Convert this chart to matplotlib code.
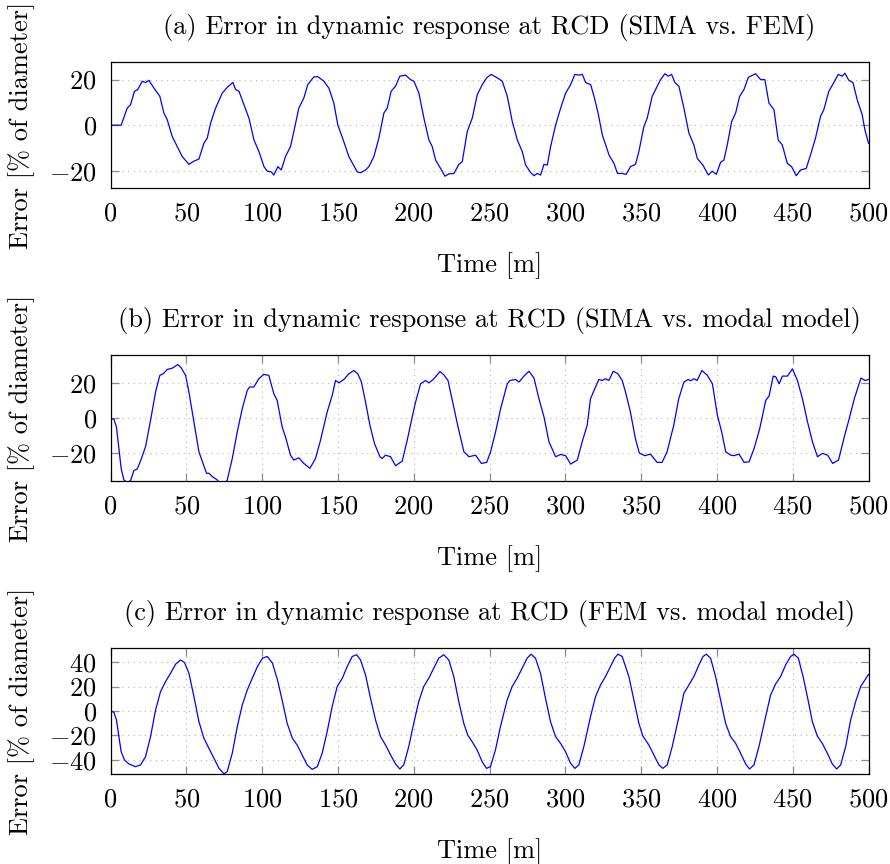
import matplotlib
matplotlib.use("Agg")
import matplotlib.pyplot as plt

plt.rcParams['font.family'] = 'serif'
plt.rcParams['font.serif'] = ['cmr10']
plt.rcParams['mathtext.fontset'] = 'cm'
plt.rcParams['axes.formatter.use_mathtext'] = True

# (a) SIMA vs. FEM
t_a = [0, 7.0, 11.0, 13.2, 15.8, 17.9, 20.9, 23.1, 25.3, 28.6, 32.5, 35.2, 37.4,
       40.7, 44.0, 47.3, 51.7, 55.0, 58.3, 61.6, 63.8, 66.0, 69.3, 73.7, 77.0,
       80.7, 82.5, 84.7, 88.0, 91.3, 94.6, 97.9, 101.2, 103.4, 106.0, 107.7,
       110.4, 112.6, 115.4, 118.7, 120.9, 124.2, 127.5, 130.1, 134.1, 136.7,
       140.7, 144.0, 147.3, 149.9, 153.5, 157.2, 162.7, 164.9, 168.2, 170.4,
       173.7, 177.0, 180.3, 182.5, 185.1, 188.0, 190.8, 194.6, 197.9, 200.1,
       203.4, 206.7, 210.0, 212.2, 214.4, 217.7, 220.6, 223.2, 226.5, 229.8,
       232.0, 235.3, 238.6, 241.9, 245.2, 248.1, 251.1, 255.1, 258.4, 261.7,
       265.0, 268.3, 271.6, 273.8, 277.1, 279.3, 281.5, 283.7, 285.9, 288.1,
       290.3, 293.6, 296.9, 300.2, 303.5, 306.2, 309.0, 311.2, 313.4, 316.7,
       318.9, 321.6, 324.4, 328.8, 332.1, 334.4, 337.5, 340.1, 343.0, 346.3,
       348.5, 351.8, 354.0, 357.3, 360.6, 362.8, 365.7, 367.9, 370.1, 372.3,
       374.9, 378.2, 381.5, 384.8, 387.0, 390.7, 394.3, 396.9, 399.6, 402.4,
       404.6, 406.8, 409.7, 412.3, 415.0, 417.8, 420.7, 425.5, 428.8, 431.6,
       434.3, 437.6, 440.4, 443.1, 446.4, 449.2, 452.3, 455.1, 458.9, 461.7,
       465.0, 468.3, 470.5, 473.8, 477.1, 480.0, 482.6, 484.4, 487.0, 489.7,
       492.5, 495.8, 497.6, 500.0]
err_a = [0, 0, 7.5, 9.0, 14.9, 15.6, 19.3, 18.7, 19.7, 16.3, 12.7, 5.3, 2.4,
         -5.0, -9.4, -13.8, -17.2, -15.8, -14.9, -7.9, -5.7, 0.9, 7.5, 14.1, 16.6,
         18.8, 15.6, 14.9, 9.0, 3.1, -6.5, -11.6, -18.2, -20.2, -20.5, -21.9,
         -18.2, -19.7, -13.8, -9.4, -2.8, 7.5, 11.9, 17.8, 21.2, 21.3,
         19.3, 16.3, 9.7, 0.1, -6.5, -13.8, -20.5, -20.9, -19.7, -18.2,
         -13.8, -5.7, 5.3, 7.5, 14.9, 17.1, 21.5, 22.0, 20.0, 19.3,
         14.1, 3.1, -6.5, -9.4, -15.3, -19.0, -22.4, -21.4, -21.2, -17.2,
         -16.0, -2.8, 3.1, 13.4, 17.8, 20.8, 22.3, 20.8, 19.3, 12.7,
         1.6, -6.5, -11.6, -17.5, -20.8, -22.2, -21.2, -21.9, -17.2, -17.5,
         -9.4, 0.1, 7.5, 14.1, 17.8, 22.3, 22.0, 22.3, 18.7, 17.8,
         12.7, 5.3, -4.3, -13.1, -16.8, -21.2, -21.2, -21.6, -18.2, -17.2,
         -11.6, -0.6, 3.1, 12.7, 17.1, 20.0, 22.6, 21.5, 22.3, 18.7,
         17.1, 7.5, -3.5, -8.7, -14.6, -17.5, -21.9, -20.2, -21.6, -16.3,
         -15.3, -8.7, 1.6, 5.3, 12.7, 15.6, 21.0, 22.6, 20.0, 20.0,
         9.7, 6.8, -6.5, -8.7, -16.8, -18.2, -22.2, -19.7, -19.0, -13.1,
         -5.7, 3.8, 6.8, 14.9, 18.7, 22.3, 21.5, 22.8, 19.7, 18.7,
         11.2, 4.6, -2.1, -8.0]

# (b) SIMA vs. modal model
t_b = [0, 2.2, 3.9, 5.5, 7.0, 8.8, 11.0, 13.2, 15.4, 17.6, 19.8, 23.1, 26.4,
       29.7, 32.5, 34.7, 37.4, 40.7, 44.4, 46.6, 49.5, 51.7, 55.0, 58.3, 63.3,
       64.9, 67.1, 70.4, 71.5, 75.9, 77.0, 80.3, 83.6, 86.9, 90.2, 91.7, 94.5,
       97.8, 101.1, 104.4, 107.7, 109.9, 113.2, 115.4, 118.7, 120.9, 124.2,
       127.5, 131.5, 135.2, 138.5, 142.9, 146.2, 148.4, 150.6, 153.9, 157.2,
       160.5, 163.1, 165.5, 168.2, 171.1, 174.1, 177.7, 179.2, 181.4, 184.7,
       188.0, 192.4, 195.7, 199.0, 201.2, 204.5, 207.8, 210.0, 212.9, 217.3,
       219.9, 222.6, 226.1, 229.2, 233.1, 236.4, 240.8, 244.6, 248.1, 250.7,
       254.0, 257.3, 261.7, 263.4, 267.2, 269.4, 272.7, 276.0, 279.3, 282.6,
       285.9, 289.2, 293.6, 296.9, 300.2, 303.5, 307.9, 311.1, 314.4, 316.6,
       319.9, 322.1, 324.3, 326.5, 328.7, 331.6, 334.7, 337.5, 339.7, 342.9,
       346.2, 348.8, 352.4, 356.1, 360.5, 363.8, 367.1, 371.5, 374.8, 378.2,
       381.0, 382.6, 384.8, 386.9, 390.1, 393.7, 397.0, 400.3, 403.1, 405.8,
       409.1, 411.3, 414.6, 417.9, 421.2, 424.5, 428.2, 432.2, 434.4, 437.1,
       438.8, 441.0, 443.2, 446.5, 449.8, 453.1, 456.4, 459.7, 463.0, 466.3,
       469.6, 473.0, 476.3, 480.2, 484.0, 487.3, 490.6, 493.4, 495.0, 497.8,
       500.0]
err_b = [0, -0.6, -4.9, -17.2, -28.5, -35.1, -36.5, -35.5, -29.7, -28.9, -24.2,
         -16.2, -1.1, 14.9, 24.4, 25.3, 27.8, 28.5, 30.6, 28.7, 24.4, 14.9, -2.1,
         -19.1, -31.3, -31.3, -33.2, -35.1, -36.5, -36.5, -35.1, -22.9, -7.7, 5.5,
         15.9, 17.8, 17.8, 22.5, 25.0, 24.4, 14.0, 10.2, -4.9, -10.6, -21.0,
         -23.8, -22.5, -25.7, -28.5, -22.9, -12.5, 3.6, 13.0, 21.5, 20.2, 22.1,
         25.3, 27.2, 25.3, 20.6, 9.2, -4.0, -14.4, -21.9, -22.9, -21.0, -21.9,
         -27.0, -24.4, -12.5, 0.8, 9.2, 19.6, 21.5, 20.2, 22.1, 26.6, 24.7,
         21.5, 7.4, -4.9, -19.1, -21.9, -21.0, -25.7, -25.1, -19.1, -7.7, 5.5,
         19.6, 21.5, 22.1, 20.6, 24.0, 26.8, 22.9, 11.1, 0.8, -13.4, -21.9,
         -20.6, -21.3, -26.1, -23.8, -13.4, -4.0, 11.1, 17.8, 22.1, 21.5, 22.5,
         21.5, 26.8, 25.3, 21.5, 14.9, 3.6, -11.5, -19.8, -21.3, -20.4, -25.1,
         -25.1, -19.1, -4.0, 11.1, 20.6, 22.1, 21.3, 22.5, 21.5, 27.2, 24.4,
         19.6, 1.7, -7.7, -19.1, -21.0, -21.3, -20.4, -25.1, -24.8, -17.2, -5.9,
         10.2, 12.7, 24.0, 23.6, 19.6, 24.0, 24.0, 28.1, 21.5, 11.1, -1.9,
         -13.4, -21.9, -20.0, -21.0, -25.7, -23.8, -10.6, 0.0, 11.1, 18.7,
         22.9, 21.5, 22.1]

# (c) FEM vs. modal model
t_c = [0, 2.2, 3.9, 5.5, 7.0, 9.2, 12.1, 16.5, 19.8, 23.1, 26.4, 29.7, 33.0,
       36.3, 39.6, 42.9, 46.2, 48.8, 51.7, 55.0, 58.3, 61.6, 64.9, 68.2, 71.5,
       74.8, 77.0, 80.3, 83.6, 86.9, 90.2, 93.5, 96.9, 100.2, 103.4, 106.8,
       110.1, 113.4, 116.5, 120.0, 123.1, 126.4, 129.7, 133.0, 136.4, 139.6,
       142.9, 146.2, 149.5, 152.9, 156.1, 159.4, 162.3, 164.9, 168.2, 171.5,
       174.8, 178.1, 181.4, 184.7, 188.0, 190.8, 193.4, 196.7, 200.0, 203.3,
       206.6, 209.9, 213.2, 216.5, 219.8, 223.1, 226.4, 229.7, 233.0, 235.6,
       238.5, 241.8, 245.1, 248.0, 250.6, 253.9, 257.2, 261.6, 264.9, 268.2,
       271.5, 274.8, 277.4, 280.3, 283.6, 286.9, 290.2, 293.5, 296.8, 300.1,
       303.4, 306.3, 308.9, 312.2, 316.6, 319.9, 323.2, 326.5, 329.8, 332.5,
       334.7, 337.5, 341.9, 345.2, 348.5, 351.1, 355.1, 358.4, 361.7, 364.3,
       367.2, 370.5, 374.9, 378.2, 381.5, 384.8, 388.1, 390.8, 393.0, 395.8,
       399.1, 402.4, 405.7, 409.0, 412.3, 415.6, 418.9, 421.5, 424.4, 427.7,
       432.1, 435.4, 438.7, 442.0, 445.3, 448.6, 450.8, 453.7, 456.8, 460.1,
       462.9, 466.2, 469.5, 472.8, 476.1, 479.0, 481.6, 484.9, 488.2, 491.5,
       494.8, 497.7, 500.0]
err_c = [0, -1.1, -7.4, -21.0, -33.3, -40.1, -43.4, -45.6, -44.2, -37.4, -21.0,
         0.8, 15.9, 24.1, 30.9, 38.3, 41.8, 39.6, 30.9, 11.8, -8.7, -22.4,
         -30.6, -38.8, -46.9, -51.5, -49.5, -34.6, -12.8, 4.9, 17.2, 26.8, 36.4,
         43.2, 44.6, 39.1, 25.5, 7.7, -10.1, -22.4, -27.9, -36.0, -44.2, -47.8,
         -45.6, -34.6, -16.9, 3.6, 20.0, 26.8, 36.4, 44.6, 46.0, 41.8, 29.5,
         10.4, -7.4, -21.0, -27.9, -36.0, -43.4, -47.5, -44.2, -29.2, -10.1,
         7.7, 20.0, 26.8, 35.0, 43.2, 46.0, 41.8, 28.2, 7.7, -10.1, -19.7,
         -25.1, -31.9, -41.5, -47.0, -45.6, -31.9, -12.8, 9.0, 20.0, 26.8,
         35.0, 43.2, 46.5, 43.2, 30.9, 10.4, -8.7, -21.0, -26.5, -33.3,
         -42.8, -47.0, -44.2, -29.2, -4.7, 11.8, 21.3, 28.2, 36.4, 43.2,
         46.5, 44.6, 28.2, 9.0, -10.1, -20.5, -27.9, -36.0, -44.2, -47.0,
         -44.2, -29.2, -4.7, 14.5, 21.3, 28.2, 37.7, 44.6, 46.5, 43.2,
         28.2, 9.0, -10.1, -21.0, -26.5, -34.6, -43.4, -47.5, -44.2, -29.2,
         -4.7, 13.1, 22.1, 28.2, 37.7, 44.6, 46.5, 43.2, 28.2, 9.0,
         -8.7, -20.5, -26.5, -34.6, -43.4, -47.5, -44.2, -29.2, -7.4, 7.7,
         20.0, 25.5, 30.0]

titles = ["(a) Error in dynamic response at RCD (SIMA vs. FEM)",
          "(b) Error in dynamic response at RCD (SIMA vs. modal model)",
          "(c) Error in dynamic response at RCD (FEM vs. modal model)"]
yticks = [[-20, 0, 20], [-20, 0, 20], [-40, -20, 0, 20, 40]]
ylims = [(-27.6, 27.8), (-35.7, 36.1), (-51.6, 51.7)]
xticks = [0, 50, 100, 150, 200, 250, 300, 350, 400, 450, 500]

fig = plt.figure(figsize=(8.9, 8.64), dpi=100)
boxes = [0.7824, 0.4433, 0.1042]
series = [(t_a, err_a), (t_b, err_b), (t_c, err_c)]
fs = 19

for i in range(3):
    ax = fig.add_axes([0.1242, boxes[i], 0.8517, 0.146])
    t, e = series[i]
    ax.plot(t, e, color='#0000ff', lw=0.9)
    ax.set_xlim(0, 500)
    ax.set_ylim(*ylims[i])
    ax.set_xticks(xticks)
    ax.set_yticks(yticks[i])
    ax.set_title(titles[i], fontsize=fs, pad=20)
    ax.set_xlabel("Time [m]", fontsize=fs, labelpad=19)
    ax.set_ylabel("Error [% of diameter]", fontsize=fs, labelpad=10)
    ax.tick_params(labelsize=fs, direction='in', length=6, width=0.9,
                   color='#8c8c8c', top=True, right=True, pad=10)
    if i == 0:
        ax.tick_params(axis='x', length=0)
        ax.grid(axis='y', color='#b4b4b4', lw=0.8, linestyle=(0, (1, 4)))
    else:
        ax.grid(color='#b4b4b4', lw=0.8, linestyle=(0, (1, 4)))
    ax.set_axisbelow(True)
    for s in ax.spines.values():
        s.set_linewidth(0.9)

fig.savefig("out.png", dpi=100)
